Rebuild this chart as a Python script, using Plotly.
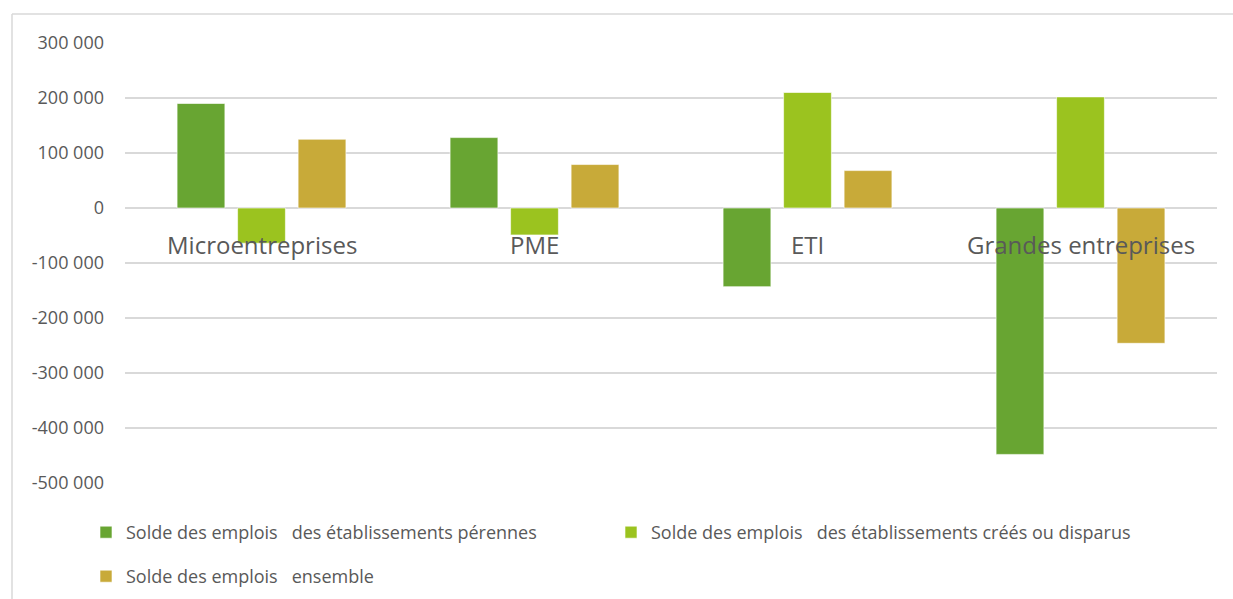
import plotly.graph_objects as go

categories = ["Microentreprises", "PME", "ETI", "Grandes entreprises"]
series_names = [
    "Solde des emplois\u00a0\u00a0\u00a0des établissements pérennes",
    "Solde des emplois\u00a0\u00a0\u00a0des établissements créés ou disparus",
    "Solde des emplois\u00a0\u00a0\u00a0ensemble",
]
perennes = [190000, 128000, -143000, -448000]
crees_disparus = [-64000, -49000, 210000, 202000]
ensemble = [125000, 79000, 68000, -246000]
colors = ["#68A532", "#9BC31F", "#C8AA39"]
legend_ids = ["legend", "legend", "legend2"]

tick_vals = [300000, 200000, 100000, 0, -100000, -200000, -300000, -400000, -500000]
tick_text = ["300 000", "200 000", "100 000", "0", "-100 000", "-200 000",
             "-300 000", "-400 000", "-500 000"]

FONT = "'Open Sans', 'Noto Sans', sans-serif"
TXT = "#595959"
GRID = "#D9D9D9"

fig = go.Figure()
for name, vals, col, lg in zip(series_names, [perennes, crees_disparus, ensemble], colors, legend_ids):
    fig.add_trace(go.Bar(
        x=categories, y=vals, name=name, legend=lg,
        marker=dict(color=col, line=dict(color="rgba(255,255,255,0.6)", width=1)),
        hoverinfo="skip",
    ))

annotations = []
for c in categories:
    annotations.append(dict(
        x=c, y=0, xref="x", yref="y", text=c, showarrow=False,
        yanchor="middle", xanchor="center", yshift=-36,
        font=dict(family=FONT, size=24, color=TXT),
    ))

L, R, T, B = 125, 16, 43, 116
W, H = 1233, 599
pw, ph = W - L - R, H - T - B
def px_x(x):
    return (x - L) / pw
def px_y(y):
    return (H - B - y) / ph

shapes = [
    dict(type="line", xref="paper", yref="paper", x0=px_x(12), x1=px_x(12),
         y0=px_y(14), y1=px_y(620), line=dict(color=GRID, width=1.5)),
    dict(type="line", xref="paper", yref="paper", x0=px_x(12), x1=px_x(1240),
         y0=px_y(14), y1=px_y(14), line=dict(color=GRID, width=1.5)),
]

legend_common = dict(
    orientation="h", xanchor="left", yanchor="top",
    font=dict(family=FONT, size=18, color=TXT),
    entrywidth=480, entrywidthmode="pixels",
    itemclick=False, itemdoubleclick=False,
    bgcolor="rgba(0,0,0,0)",
)

fig.update_layout(
    width=W, height=H,
    margin=dict(l=L, r=R, t=T, b=B, pad=0, autoexpand=False),
    paper_bgcolor="white", plot_bgcolor="white",
    barmode="group", bargap=0.335, bargroupgap=0.21,
    font=dict(family=FONT, color=TXT),
    showlegend=True,
    legend=dict(x=px_x(86), y=px_y(514), **legend_common),
    legend2=dict(x=px_x(86), y=px_y(558), **legend_common),
    annotations=annotations,
    shapes=shapes,
)
fig.update_xaxes(showticklabels=False, showgrid=False, zeroline=False, showline=False,
                 ticks="", fixedrange=True)
fig.update_yaxes(
    range=[-500000, 300000], tickvals=tick_vals, ticktext=tick_text,
    showgrid=True, gridcolor=GRID, gridwidth=1.5,
    zeroline=True, zerolinecolor=GRID, zerolinewidth=1.5,
    showline=False, ticks="", ticklabelstandoff=20,
    tickfont=dict(family=FONT, size=18, color=TXT), fixedrange=True,
)

fig.write_html(
    "out.html",
    config={"displayModeBar": False},
    post_script="document.body.style.margin='0';document.body.style.overflow='hidden';",
)
